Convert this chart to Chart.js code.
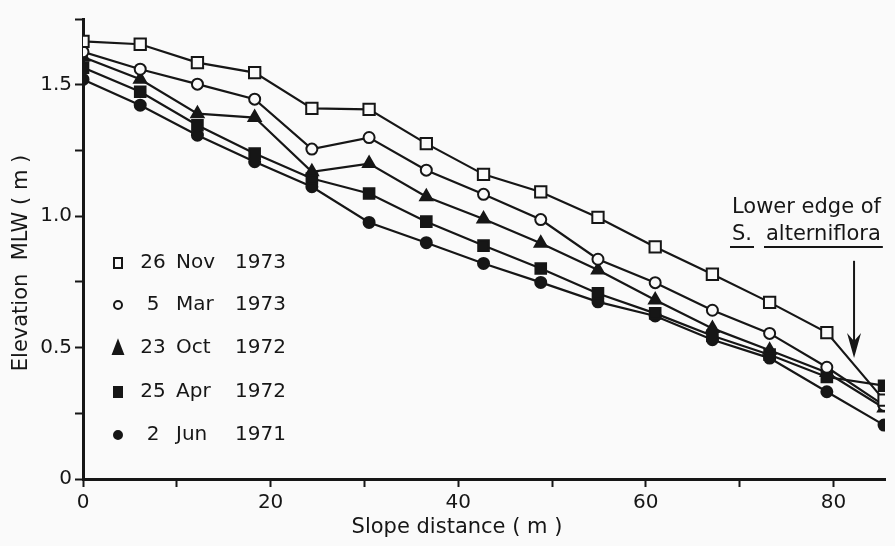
<!DOCTYPE html>
<html>
<head>
<meta charset="utf-8">
<script src="https://cdn.jsdelivr.net/npm/chart.js@4.4.1/dist/chart.umd.min.js"></script>
<style>
  html, body { margin: 0; padding: 0; background: #fafafa; }
  #wrap { width: 895px; height: 546px; }
</style>
</head>
<body>
<div id="wrap"><canvas id="profile"></canvas></div>
<script>
// slope distance of each survey stake (m)
const distance = [0, 6.1, 12.2, 18.3, 24.4, 30.5, 36.6, 42.7, 48.8, 54.9, 61.0, 67.1, 73.2, 79.3, 85.4];

// elevation above mean low water (m) for each survey date
const nov1973 = [1.665, 1.654, 1.584, 1.546, 1.410, 1.406, 1.276, 1.159, 1.092, 0.995, 0.883, 0.779, 0.672, 0.557, 0.300];
const mar1973 = [1.625, 1.559, 1.502, 1.445, 1.255, 1.299, 1.175, 1.083, 0.987, 0.836, 0.747, 0.642, 0.554, 0.425, 0.280];
const oct1972 = [1.605, 1.521, 1.390, 1.375, 1.169, 1.200, 1.074, 0.989, 0.897, 0.795, 0.681, 0.573, 0.490, 0.405, 0.270];
const apr1972 = [1.565, 1.473, 1.346, 1.238, 1.143, 1.086, 0.979, 0.888, 0.801, 0.706, 0.630, 0.545, 0.473, 0.388, 0.355];
const jun1971 = [1.520, 1.422, 1.308, 1.207, 1.112, 0.976, 0.899, 0.820, 0.748, 0.674, 0.620, 0.530, 0.460, 0.332, 0.205];

// legend text, split so the columns line up
const legendDay = ['26', '5', '23', '25', '2'];
const legendMonth = ['Nov', 'Mar', 'Oct', 'Apr', 'Jun'];
const legendYear = ['1973', '1973', '1972', '1972', '1971'];

const xTicks = [0, 10, 20, 30, 40, 50, 60, 70, 80];
const xTickLabels = [0, 20, 40, 60, 80];
const yTickLabels = [0, 0.5, 1.0, 1.5];

const INK = '#161616';
const PAPER = '#fafafa';
const FONT = '"DejaVu Sans", sans-serif';

function toPoints(ys) {
  return ys.map((y, i) => ({ x: distance[i], y: y }));
}

const seriesStyle = [
  { pointStyle: 'rect', pointRadius: 8, backgroundColor: PAPER },
  { pointStyle: 'circle', pointRadius: 5.5, backgroundColor: PAPER },
  { pointStyle: 'triangle', pointRadius: 7, backgroundColor: INK },
  { pointStyle: 'rect', pointRadius: 7.5, backgroundColor: INK },
  { pointStyle: 'circle', pointRadius: 5.5, backgroundColor: INK }
];

const seriesData = [nov1973, mar1973, oct1972, apr1972, jun1971];

const datasets = seriesData.map((ys, i) => ({
  label: legendDay[i] + ' ' + legendMonth[i] + ' ' + legendYear[i],
  data: toPoints(ys),
  borderColor: INK,
  borderWidth: 2.2,
  pointBorderColor: INK,
  pointBorderWidth: 2,
  pointStyle: seriesStyle[i].pointStyle,
  pointRadius: seriesStyle[i].pointRadius,
  pointBackgroundColor: seriesStyle[i].backgroundColor,
  tension: 0
}));

// small marker painter for the legend block
function drawMarker(ctx, style, x, y) {
  ctx.save();
  ctx.lineWidth = 2;
  ctx.strokeStyle = INK;
  ctx.fillStyle = style.backgroundColor;
  ctx.beginPath();
  if (style.pointStyle === 'rect') {
    ctx.rect(x - 4, y - 5, 8, 10);
  } else if (style.pointStyle === 'triangle') {
    ctx.moveTo(x, y - 7);
    ctx.lineTo(x + 5, y + 6);
    ctx.lineTo(x - 5, y + 6);
    ctx.closePath();
  } else {
    ctx.arc(x, y, 4, 0, Math.PI * 2);
  }
  ctx.fill();
  ctx.stroke();
  ctx.restore();
}

const annotations = {
  id: 'annotations',
  afterDatasetsDraw(chart) {
    const ctx = chart.ctx;
    const area = chart.chartArea;
    const xs = chart.scales.x;
    const ys = chart.scales.y;
    ctx.save();
    ctx.fillStyle = INK;
    ctx.strokeStyle = INK;

    // legend block
    ctx.font = '20px ' + FONT;
    ctx.textBaseline = 'middle';
    const rowOffsets = [216, 174, 131, 87, 44];
    for (let i = 0; i < legendDay.length; i++) {
      const y = area.bottom - rowOffsets[i];
      drawMarker(ctx, seriesStyle[i], area.left + 35, y);
      ctx.fillStyle = INK;
      ctx.textAlign = 'center';
      ctx.fillText(legendDay[i], area.left + 70, y);
      ctx.textAlign = 'left';
      ctx.fillText(legendMonth[i], area.left + 93, y);
      ctx.fillText(legendYear[i], area.left + 152, y);
    }

    // vegetation edge note with arrow
    const ax = xs.getPixelForValue(82.2);
    const top = ys.getPixelForValue(0.83);
    const tip = ys.getPixelForValue(0.46);
    ctx.lineWidth = 2;
    ctx.beginPath();
    ctx.moveTo(ax, top);
    ctx.lineTo(ax, tip - 12);
    ctx.stroke();
    ctx.beginPath();
    ctx.moveTo(ax, tip);
    ctx.lineTo(ax - 7, tip - 25);
    ctx.lineTo(ax, tip - 17);
    ctx.lineTo(ax + 7, tip - 25);
    ctx.closePath();
    ctx.fill();

    ctx.font = '21px ' + FONT;
    ctx.textAlign = 'left';
    ctx.textBaseline = 'alphabetic';
    ctx.fillText('Lower edge of', 732, 213);
    ctx.fillText('S.', 732, 240);
    ctx.fillText('alterniflora', 766, 240);
    const wS = ctx.measureText('S.').width;
    const wA = ctx.measureText('alterniflora').width;
    ctx.lineWidth = 2;
    ctx.beginPath();
    ctx.moveTo(730, 247); ctx.lineTo(732 + wS + 2, 247);
    ctx.moveTo(764, 247); ctx.lineTo(766 + wA + 2, 247);
    ctx.stroke();

    // axis titles
    ctx.font = '21px ' + FONT;
    ctx.textAlign = 'center';
    ctx.textBaseline = 'middle';
    ctx.fillText('Slope distance ( m )', 457, 528);
    ctx.translate(22, 263);
    ctx.rotate(-Math.PI / 2);
    ctx.fillText('Elevation  MLW ( m )', 0, 0);
    ctx.restore();
  }
};

new Chart(document.getElementById('profile'), {
  type: 'line',
  data: { datasets: datasets },
  options: {
    responsive: true,
    maintainAspectRatio: false,
    animation: false,
    layout: { padding: { top: 19, right: 0, left: 0, bottom: 0 } },
    plugins: {
      legend: { display: false },
      tooltip: { enabled: false },
      title: { display: false }
    },
    scales: {
      x: {
        type: 'linear',
        min: 0,
        max: 85.5,
        afterFit: s => { s.height = 67; },
        afterBuildTicks: s => { s.ticks = xTicks.map(v => ({ value: v })); },
        ticks: {
          autoSkip: false,
          maxRotation: 0,
          padding: 4,
          color: INK,
          font: { family: FONT, size: 20 },
          callback: v => xTickLabels.includes(v) ? String(v) : ''
        },
        grid: { drawOnChartArea: false, drawTicks: true, tickLength: 8, tickWidth: 2, color: INK },
        border: { display: true, color: INK, width: 3 }
      },
      y: {
        min: 0,
        max: 1.75,
        afterFit: s => { s.width = 83; },
        ticks: {
          stepSize: 0.25,
          autoSkip: false,
          padding: 3,
          color: INK,
          font: { family: FONT, size: 20 },
          callback: v => {
            const hit = yTickLabels.find(t => Math.abs(t - v) < 1e-6);
            if (hit === undefined) return '';
            return hit === 0 ? '0' : hit.toFixed(1);
          }
        },
        grid: { drawOnChartArea: false, drawTicks: true, tickLength: 8, tickWidth: 2, color: INK },
        border: { display: true, color: INK, width: 3 }
      }
    }
  },
  plugins: [annotations]
});
</script>
</body>
</html>
